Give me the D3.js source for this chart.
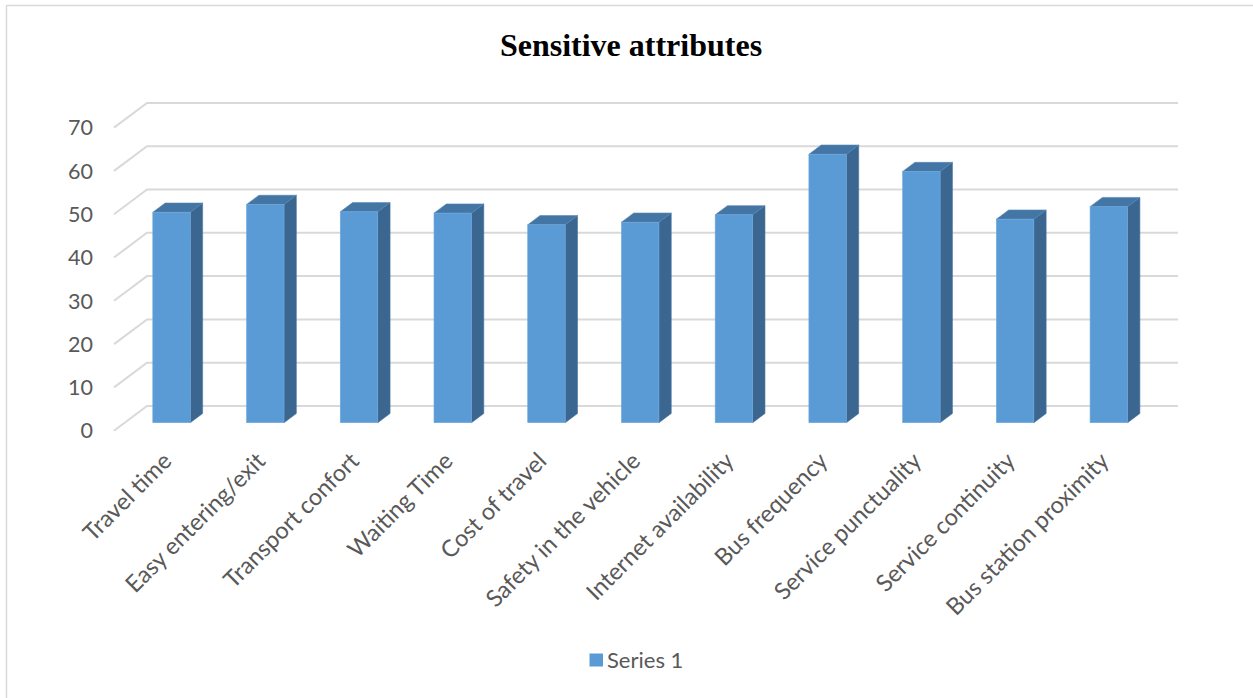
<!DOCTYPE html>
<html>
<head>
<meta charset="utf-8">
<script src="https://cdn.jsdelivr.net/npm/d3@7"></script>
<style>
  html, body { margin: 0; padding: 0; background: #fff; }
  svg { display: block; }
</style>
</head>
<body>
<svg id="chart" width="1253" height="698"></svg>
<script>
// Sensitive attributes survey scores
const categories = [
  "Travel time", "Easy entering/exit", "Transport confort", "Waiting Time",
  "Cost of travel", "Safety in the vehicle", "Internet availability",
  "Bus frequency", "Service punctuality", "Service continuity",
  "Bus station proximity"
];
const values = [48.6, 50.4, 48.7, 48.4, 45.7, 46.3, 48.0, 62.0, 58.0, 47.0, 49.9];
const yTicks = [0, 10, 20, 30, 40, 50, 60, 70];
const seriesName = "Series 1";

const svg = d3.select("#chart");
const W = 1253, H = 698;

// Oblique 3D frame: front plane plus a depth vector toward the back wall
const front = { left: 114, right: 1145, top: 127.6, bottom: 430.7 };
const depth = { dx: 33, dy: -24.7 };
const barDepth = { near: 0.324, far: 0.697 };
const barFrac = 0.4;

const x = d3.scaleBand().domain(categories).range([front.left, front.right]).padding(0);
const y = d3.scaleLinear().domain([0, 70]).range([front.bottom, front.top]);

const textColor = "#595959";
const font = "Lato, 'Open Sans', sans-serif";

// Outer chart frame
svg.append("rect")
  .attr("x", 6.5).attr("y", 5.5)
  .attr("width", W + 20).attr("height", H + 20)
  .attr("fill", "#fff")
  .attr("stroke", "#d9d9d9").attr("stroke-width", 1.5);

// Title
svg.append("text")
  .attr("x", 631).attr("y", 56)
  .attr("text-anchor", "middle")
  .attr("font-family", "'Liberation Serif', 'Times New Roman', serif")
  .attr("font-weight", "bold")
  .attr("font-size", 32)
  .attr("fill", "#000")
  .text("Sensitive attributes");

// Gridlines: diagonal on the side wall, then across the back wall
const grid = svg.append("g").attr("fill", "none")
  .attr("stroke", "#d9d9d9").attr("stroke-width", 2);
grid.selectAll("polyline").data(yTicks).join("polyline")
  .attr("points", d => {
    const yf = y(d);
    return [
      [front.left, yf],
      [front.left + depth.dx, yf + depth.dy],
      [front.right + depth.dx, yf + depth.dy]
    ].map(p => p.join(",")).join(" ");
  });

// Y axis labels
svg.append("g").selectAll("text").data(yTicks).join("text")
  .attr("x", 93).attr("y", d => y(d))
  .attr("dy", "0.36em")
  .attr("text-anchor", "end")
  .attr("font-family", font).attr("font-size", 21.5)
  .attr("fill", textColor)
  .text(d => d);

// 3D columns
const bw = x.bandwidth() * barFrac;
const offNear = { x: depth.dx * barDepth.near, y: depth.dy * barDepth.near };
const dd = { x: depth.dx * (barDepth.far - barDepth.near), y: depth.dy * (barDepth.far - barDepth.near) };

const bars = svg.append("g").selectAll("g").data(categories.map((c, i) => ({ c, v: values[i] })))
  .join("g");

bars.each(function (d) {
  const g = d3.select(this);
  const cx = x(d.c) + x.bandwidth() / 2;
  const xl = cx - bw / 2 + offNear.x;
  const xr = cx + bw / 2 + offNear.x;
  const yt = y(d.v) + offNear.y;
  const yb = y(0) + offNear.y;
  const pts = a => a.map(p => p.join(",")).join(" ");

  // right side face
  g.append("polygon")
    .attr("points", pts([[xr, yt], [xr + dd.x, yt + dd.y], [xr + dd.x, yb + dd.y], [xr, yb]]))
    .attr("fill", "#3b6690").attr("stroke", "#45739f").attr("stroke-width", 0.6);
  // top face
  g.append("polygon")
    .attr("points", pts([[xl, yt], [xl + dd.x, yt + dd.y], [xr + dd.x, yt + dd.y], [xr, yt]]))
    .attr("fill", "#4476a5").attr("stroke", "#5486b5").attr("stroke-width", 0.6);
  // front face
  g.append("rect")
    .attr("x", xl).attr("y", yt)
    .attr("width", xr - xl).attr("height", yb - yt)
    .attr("fill", "#5b9bd5").attr("stroke", "#6ea8dc").attr("stroke-width", 0.6);
});

// Category labels, rotated 45 degrees
svg.append("g").selectAll("text").data(categories).join("text")
  .attr("transform", d => `translate(${x(d) + x.bandwidth() / 2 + offNear.x + 1.5},462.5) rotate(-45)`)
  .attr("text-anchor", "end")
  .attr("font-family", font).attr("font-size", 23.5)
  .attr("fill", textColor)
  .text(d => d);

// Legend
const legend = svg.append("g");
legend.append("rect")
  .attr("x", 589.5).attr("y", 653.5).attr("width", 13.5).attr("height", 13)
  .attr("fill", "#5b9bd5");
legend.append("text")
  .attr("x", 607).attr("y", 660).attr("dy", "0.36em")
  .attr("font-family", font).attr("font-size", 22)
  .attr("fill", textColor)
  .text(seriesName);
</script>
</body>
</html>
